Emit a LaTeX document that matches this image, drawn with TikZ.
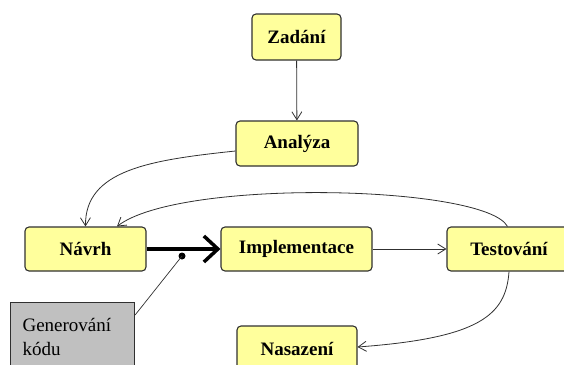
\documentclass[tikz,border=0pt]{standalone}
\usepackage{fontspec}
\setmainfont{Liberation Serif}
\usetikzlibrary{arrows.meta}
\definecolor{boxyellow}{HTML}{FFFF9C}
\definecolor{boxgray}{HTML}{C0C0C0}
\definecolor{edgegray}{HTML}{303030}
\begin{document}
\begin{tikzpicture}[x=1pt,y=-1pt,
  phase/.style={draw=edgegray, line width=1.1pt, fill=boxyellow, rounded corners=4pt,
    font=\fontsize{19}{22}\selectfont\bfseries, inner sep=0pt},
  tool/.style={draw=edgegray, line width=1.1pt, fill=boxgray, anchor=north west,
    font=\fontsize{19}{24}\selectfont, align=left, text width=100pt,
    inner xsep=12pt, inner ysep=0pt, minimum width=120pt, minimum height=68pt},
  flow/.style={draw=edgegray, line width=0.8pt,
    -{Straight Barb[length=8pt,width=10pt,line width=0.8pt]}},
  strong/.style={draw=black, line width=3.5pt,
    -{Straight Barb[length=14pt,width=26pt,line width=3.5pt]}}]
\useasboundingbox (0,0) rectangle (564,364);

% development phases
\node[phase, minimum width=89pt, minimum height=46pt] (zadani) at (296.5,37) {Zadání};
\node[phase, minimum width=122pt, minimum height=45pt] (analyza) at (297,143.5) {Analýza};
\node[phase, minimum width=121pt, minimum height=44pt] (navrh) at (85.5,249) {Návrh};
\node[phase, minimum width=151pt, minimum height=44pt] (impl) at (296.5,249) {Implementace};
\node[phase, minimum width=124pt, minimum height=44pt] (test) at (509,249) {Testování};
\node[phase, minimum width=120pt, minimum height=46pt] (nasazeni) at (297,349) {Nasazení};

% code generation tool
\node[tool] (gen) at (10,302) {Generování\\kódu};

% transitions
\draw[flow] (zadani) -- (analyza);
\draw[flow] ([yshift=-7.5pt]analyza.west) .. controls (150,160) and (85,170) .. (navrh.north);
\draw[strong] (navrh) -- (impl);
\draw[flow] (impl) -- (test);
\draw[flow] ([xshift=-1.5pt]test.north) .. controls (485,185) and (180,178) .. ([xshift=31.5pt]navrh.north);
\draw[flow] (test.south) .. controls (506,315) and (480,338) .. ([yshift=2pt]nasazeni.east);

% link from the tool to the design transition
\coordinate (dot) at (182,256);
\fill (dot) circle (3.5pt);
\draw[draw=edgegray, line width=0.7pt] (dot) -- ([yshift=-13pt]gen.north east);
\end{tikzpicture}
\end{document}
